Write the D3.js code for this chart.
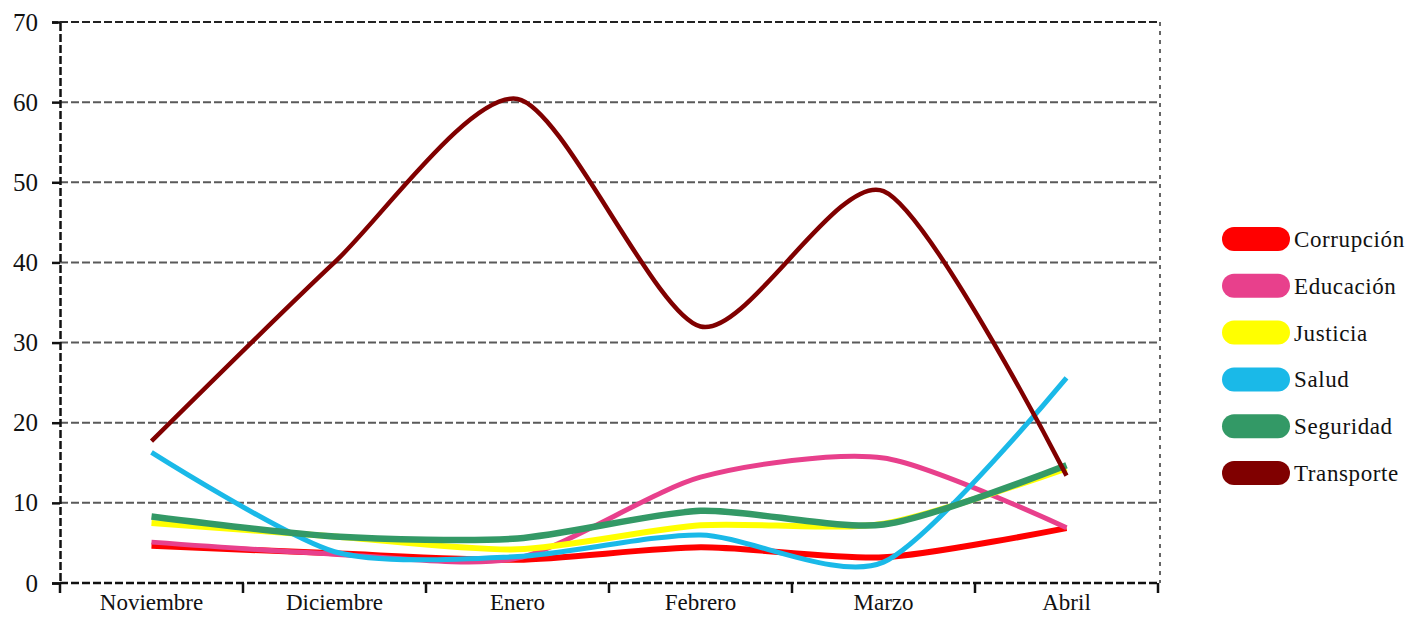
<!DOCTYPE html>
<html>
<head>
<meta charset="utf-8">
<script src="https://cdn.jsdelivr.net/npm/d3@7"></script>
<style>
  body { margin: 0; background: #fff; }
  svg { display: block; font-family: "Liberation Serif", "DejaVu Serif", serif; }
</style>
</head>
<body>
<svg id="chart"></svg>
<script>
// Chart values
const months = ["Noviembre", "Diciembre", "Enero", "Febrero", "Marzo", "Abril"];
const yTicks = [0, 10, 20, 30, 40, 50, 60, 70];

const corrupcion = [4.65, 3.7, 2.9, 4.45, 3.2, 6.85];
const educacion  = [5.1, 3.6, 3.1, 13.2, 15.6, 6.9];
const justicia   = [7.5, 5.8, 4.2, 7.2, 7.4, 14.3];
const salud      = [16.3, 3.9, 3.3, 6.0, 2.6, 25.6];
const seguridad  = [8.3, 5.8, 5.55, 9.0, 7.3, 14.7];
const transporte = [17.7, 40.0, 60.4, 32.0, 48.9, 13.4];

const seriesNames = ["Corrupción", "Educación", "Justicia", "Salud", "Seguridad", "Transporte"];
const seriesValues = [corrupcion, educacion, justicia, salud, seguridad, transporte];
const seriesColors = ["#ff0000", "#e8408c", "#ffff00", "#1ab9e8", "#339966", "#800000"];
const seriesWidths = [6, 5, 6, 5, 6.5, 4.5];

const width = 1409;
const height = 617;
const margin = { top: 22, right: 251, bottom: 34, left: 60 };

const svg = d3.select("#chart")
  .attr("width", width)
  .attr("height", height);

const x = d3.scaleBand()
  .domain(months)
  .range([margin.left, 1158])
  .padding(0);

const y = d3.scaleLinear()
  .domain([0, 70])
  .range([height - margin.bottom, margin.top]);

// Horizontal gridlines
svg.append("g")
  .selectAll("line")
  .data(yTicks.filter(d => d > 0))
  .enter()
  .append("line")
  .attr("x1", margin.left)
  .attr("x2", 1160)
  .attr("y1", d => y(d))
  .attr("y2", d => y(d))
  .attr("stroke", d => d === 70 ? "#222" : "#5a5a5a")
  .attr("stroke-width", 2)
  .attr("stroke-dasharray", "8,3");

// Right border (dotted)
svg.append("line")
  .attr("x1", 1160).attr("x2", 1160)
  .attr("y1", y(70)).attr("y2", y(0))
  .attr("stroke", "#666")
  .attr("stroke-width", 2)
  .attr("stroke-dasharray", "4,5");

// Y axis
const yAxis = d3.axisLeft(y)
  .tickValues(yTicks)
  .tickSize(8)
  .tickPadding(14);

const gy = svg.append("g")
  .attr("transform", `translate(${margin.left},0)`)
  .call(yAxis);
gy.select(".domain")
  .attr("stroke", "#111")
  .attr("stroke-width", 2.5)
  .attr("stroke-dasharray", "8,3");
gy.selectAll(".tick line").attr("stroke", "#111").attr("stroke-width", 2.5);
gy.selectAll(".tick text")
  .attr("fill", "#111")
  .style("font-size", "25px")
  .style("font-family", "'Liberation Serif', serif");

// X axis with ticks between categories
const xAxis = d3.axisBottom(x)
  .tickSize(0)
  .tickPadding(11);

const gx = svg.append("g")
  .attr("transform", `translate(0,${y(0)})`)
  .call(xAxis);
gx.select(".domain").remove();
gx.append("line")
  .attr("x1", margin.left).attr("x2", 1160)
  .attr("y1", 0).attr("y2", 0)
  .attr("stroke", "#111")
  .attr("stroke-width", 2.5)
  .attr("stroke-dasharray", "8,3");
gx.selectAll(".tick text")
  .attr("fill", "#111")
  .style("font-size", "23px")
  .style("font-family", "'Liberation Serif', serif");

const bounds = months.map(m => x(m)).concat([x(months[months.length - 1]) + x.bandwidth()]);
gx.selectAll(".sep")
  .data(bounds)
  .enter()
  .append("line")
  .attr("class", "sep")
  .attr("x1", d => d).attr("x2", d => d)
  .attr("y1", 0).attr("y2", 10)
  .attr("stroke", "#111")
  .attr("stroke-width", 2.5);

// Smooth lines
const line = d3.line()
  .x((d, i) => x(months[i]) + x.bandwidth() / 2)
  .y(d => y(d))
  .curve(d3.curveCardinal.tension(0.25));

svg.append("g")
  .selectAll("path")
  .data(seriesValues)
  .enter()
  .append("path")
  .attr("d", d => line(d))
  .attr("fill", "none")
  .attr("stroke", (d, i) => seriesColors[i])
  .attr("stroke-width", (d, i) => seriesWidths[i])
  .attr("stroke-linejoin", "round");

// Legend
const legend = svg.append("g")
  .attr("transform", "translate(1222,239)");

const item = legend.selectAll("g")
  .data(seriesNames)
  .enter()
  .append("g")
  .attr("transform", (d, i) => `translate(0,${i * 46.8})`);

item.append("rect")
  .attr("x", 0)
  .attr("y", -12)
  .attr("width", 68)
  .attr("height", 24)
  .attr("rx", 12)
  .attr("fill", (d, i) => seriesColors[i]);

item.append("text")
  .attr("x", 72)
  .attr("y", 8)
  .attr("fill", "#111")
  .style("font-size", "23px")
  .style("letter-spacing", "0.6px")
  .text(d => d);
</script>
</body>
</html>
